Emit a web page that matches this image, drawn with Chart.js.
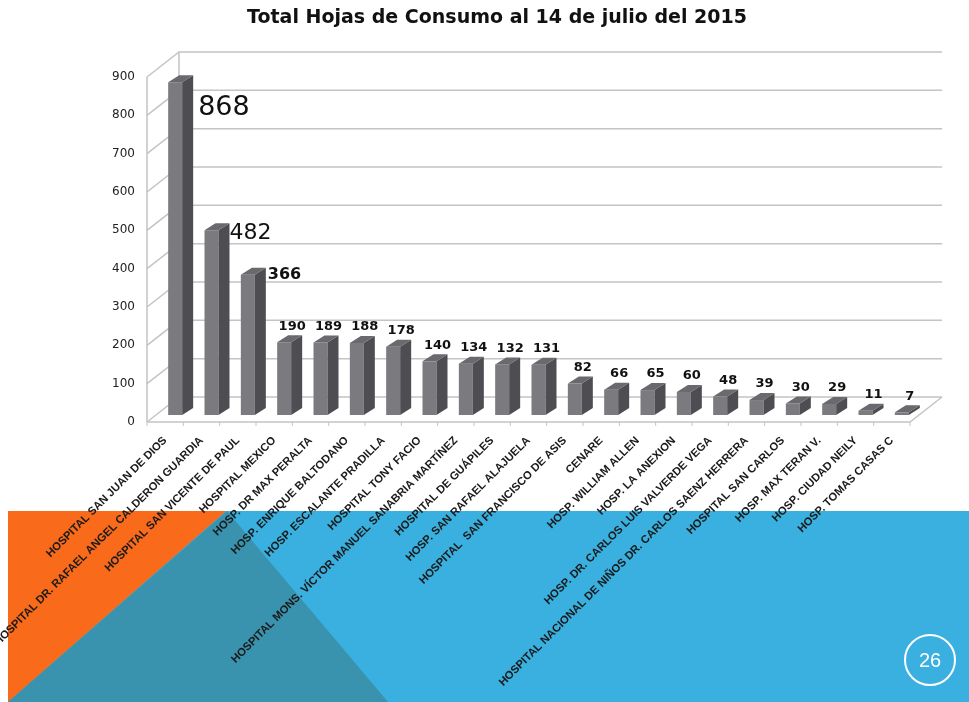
<!DOCTYPE html>
<html>
<head>
<meta charset="utf-8">
<script src="https://cdn.jsdelivr.net/npm/chart.js@4/dist/chart.umd.min.js"></script>
<style>
  html, body { margin: 0; padding: 0; background: #fff; }
  #wrap { width: 969px; height: 702px; }
</style>
</head>
<body>
<div id="wrap"><canvas id="chart" width="969" height="702"></canvas></div>
<script>
const titleText = 'Total Hojas de Consumo al 14 de julio del 2015';

const hospitals = [
    'HOSPITAL SAN JUAN DE DIOS',
    'HOSPITAL DR. RAFAEL ANGEL CALDERON GUARDIA',
    'HOSPITAL SAN VICENTE DE PAUL',
    'HOSPITAL MEXICO',
    'HOSP. DR MAX PERALTA',
    'HOSP. ENRIQUE BALTODANO',
    'HOSP. ESCALANTE PRADILLA',
    'HOSPITAL TONY FACIO',
    'HOSPITAL MONS. VÍCTOR MANUEL SANABRIA MARTÍNEZ',
    'HOSPITAL DE GUÁPILES',
    'HOSP. SAN RAFAEL ALAJUELA',
    'HOSPITAL  SAN FRANCISCO DE ASIS',
    'CENARE',
    'HOSP. WILLIAM ALLEN',
    'HOSP. LA ANEXION',
    'HOSP. DR. CARLOS LUIS VALVERDE VEGA',
    'HOSPITAL NACIONAL DE NIÑOS DR. CARLOS SAENZ HERRERA',
    'HOSPITAL SAN CARLOS',
    'HOSP. MAX TERAN V.',
    'HOSP. CIUDAD NEILY',
    'HOSP. TOMAS CASAS C'
];

const hojas = [868, 482, 366, 190, 189, 188, 178, 140, 134, 132, 131, 82, 66, 65, 60, 48, 39, 30, 29, 11, 7];

const yTicks = [0, 100, 200, 300, 400, 500, 600, 700, 800, 900];

const slideNumber = '26';

// 3D look: offsets from the bar plane to the front / back walls, and bar depth
const FRONT = { dx: -10, dy: 7 };
const BACK = { dx: 22, dy: -18 };
const DEPTH = { dx: 11, dy: -7 };

const slideBackground = {
    id: 'slideBackground',
    beforeDraw(chart) {
        const ctx = chart.ctx;
        ctx.save();
        ctx.fillStyle = '#ffffff';
        ctx.fillRect(0, 0, chart.width, chart.height);
        ctx.fillStyle = '#39b0df';
        ctx.fillRect(8, 511, chart.width - 8, chart.height - 511);
        ctx.fillStyle = '#f96a1a';
        ctx.beginPath();
        ctx.moveTo(8, 511); ctx.lineTo(226, 511); ctx.lineTo(8, 702);
        ctx.closePath(); ctx.fill();
        ctx.fillStyle = '#3a93ae';
        ctx.beginPath();
        ctx.moveTo(227, 511); ctx.lineTo(8, 702); ctx.lineTo(388, 702);
        ctx.closePath(); ctx.fill();
        // page number
        ctx.strokeStyle = '#ffffff';
        ctx.lineWidth = 2;
        ctx.beginPath();
        ctx.arc(930, 660, 25, 0, Math.PI * 2);
        ctx.stroke();
        ctx.fillStyle = '#ffffff';
        ctx.font = '20px "Liberation Sans", Arial, sans-serif';
        ctx.textAlign = 'center';
        ctx.textBaseline = 'middle';
        ctx.fillText(slideNumber, 930, 661);
        ctx.restore();
    }
};

const walls = {
    id: 'walls',
    beforeDatasetsDraw(chart) {
        const ctx = chart.ctx;
        const { left, right } = chart.chartArea;
        const y = chart.scales.y;
        const y0 = y.getPixelForValue(0);
        const yTop = y.getPixelForValue(yTicks[yTicks.length - 1]);
        ctx.save();
        ctx.strokeStyle = '#c4c4c4';
        ctx.lineWidth = 1.5;
        yTicks.forEach(v => {
            const py = y.getPixelForValue(v);
            ctx.beginPath();
            ctx.moveTo(left + FRONT.dx, py + FRONT.dy);
            ctx.lineTo(left + BACK.dx, py + BACK.dy);
            ctx.lineTo(right + BACK.dx, py + BACK.dy);
            ctx.stroke();
        });
        // wall edges
        ctx.beginPath();
        ctx.moveTo(left + FRONT.dx, yTop + FRONT.dy);
        ctx.lineTo(left + FRONT.dx, y0 + FRONT.dy);
        ctx.moveTo(left + BACK.dx, yTop + BACK.dy);
        ctx.lineTo(left + BACK.dx, y0 + BACK.dy);
        ctx.stroke();
        // floor
        ctx.beginPath();
        ctx.moveTo(left + FRONT.dx, y0 + FRONT.dy);
        ctx.lineTo(right + FRONT.dx, y0 + FRONT.dy);
        ctx.lineTo(right + BACK.dx, y0 + BACK.dy);
        ctx.stroke();
        // category tick marks on the front edge
        const step = (right - left) / hospitals.length;
        ctx.lineWidth = 1;
        for (let i = 0; i <= hospitals.length; i++) {
            const px = left + FRONT.dx + i * step;
            ctx.beginPath();
            ctx.moveTo(px, y0 + FRONT.dy);
            ctx.lineTo(px, y0 + FRONT.dy + 4);
            ctx.stroke();
        }
        ctx.restore();
    }
};

const bars3d = {
    id: 'bars3d',
    afterDatasetsDraw(chart) {
        const ctx = chart.ctx;
        const meta = chart.getDatasetMeta(0);
        ctx.save();
        meta.data.forEach(bar => {
            const { x, y, base, width } = bar.getProps(['x', 'y', 'base', 'width'], true);
            const l = x - width / 2, r = x + width / 2;
            // side
            ctx.fillStyle = '#4d4d52';
            ctx.beginPath();
            ctx.moveTo(r, y); ctx.lineTo(r + DEPTH.dx, y + DEPTH.dy);
            ctx.lineTo(r + DEPTH.dx, base + DEPTH.dy); ctx.lineTo(r, base);
            ctx.closePath(); ctx.fill();
            // top
            ctx.fillStyle = '#69696e';
            ctx.beginPath();
            ctx.moveTo(l, y); ctx.lineTo(l + DEPTH.dx, y + DEPTH.dy);
            ctx.lineTo(r + DEPTH.dx, y + DEPTH.dy); ctx.lineTo(r, y);
            ctx.closePath(); ctx.fill();
        });
        ctx.restore();
    }
};

const valueLabels = {
    id: 'valueLabels',
    afterDatasetsDraw(chart) {
        const ctx = chart.ctx;
        const meta = chart.getDatasetMeta(0);
        const big = {
            0: { font: '27px "DejaVu Sans", sans-serif', dx: 5, dy: 26 },
            1: { font: '22px "DejaVu Sans", sans-serif', dx: 0, dy: 3 },
            2: { font: 'bold 16px "DejaVu Sans", sans-serif', dx: 2, dy: 0 }
        };
        ctx.save();
        ctx.fillStyle = '#111111';
        ctx.textBaseline = 'middle';
        meta.data.forEach((bar, i) => {
            const { x, y, width } = bar.getProps(['x', 'y', 'width'], true);
            const txt = String(hojas[i]);
            if (big[i]) {
                ctx.font = big[i].font;
                ctx.textAlign = 'left';
                ctx.fillText(txt, x + width / 2 + DEPTH.dx + big[i].dx, y + big[i].dy);
            } else {
                ctx.font = 'bold 13px "DejaVu Sans", sans-serif';
                ctx.textAlign = 'center';
                ctx.fillText(txt, x + 8, y - 16);
            }
        });
        ctx.restore();
    }
};

new Chart(document.getElementById('chart'), {
    type: 'bar',
    data: {
        labels: hospitals,
        datasets: [{
            label: 'Hojas de consumo',
            data: hojas,
            backgroundColor: '#7a7a7f',
            borderWidth: 0,
            barPercentage: 0.385,
            categoryPercentage: 1
        }]
    },
    options: {
        responsive: false,
        animation: false,
        layout: { padding: { left: 74, right: 49, top: 0, bottom: 0 } },
        plugins: {
            legend: { display: false },
            tooltip: { enabled: false },
            title: {
                display: true,
                text: titleText,
                color: '#111111',
                font: { family: '"DejaVu Sans", sans-serif', size: 19, weight: 'bold' },
                padding: { top: 7, bottom: 40.2 }
            }
        },
        scales: {
            x: {
                grid: { display: false, drawTicks: false },
                border: { display: false },
                ticks: {
                    autoSkip: false,
                    minRotation: 45,
                    maxRotation: 45,
                    labelOffset: -10,
                    padding: 19,
                    color: '#1a1a1a',
                    font: { family: '"Liberation Sans", Arial, sans-serif', size: 11.2, weight: 'bold' }
                },
                afterFit(scale) { scale.height = 287; }
            },
            y: {
                min: 0,
                max: 900,
                grid: { display: false, drawTicks: false },
                border: { display: false },
                afterBuildTicks(scale) { scale.ticks = yTicks.map(v => ({ value: v })); },
                ticks: {
                    padding: 22,
                    labelOffset: 7,
                    color: '#222222',
                    font: { family: '"DejaVu Sans", sans-serif', size: 12 }
                },
                afterFit(scale) { scale.width = 83; }
            }
        }
    },
    plugins: [slideBackground, walls, bars3d, valueLabels]
});
</script>
</body>
</html>
